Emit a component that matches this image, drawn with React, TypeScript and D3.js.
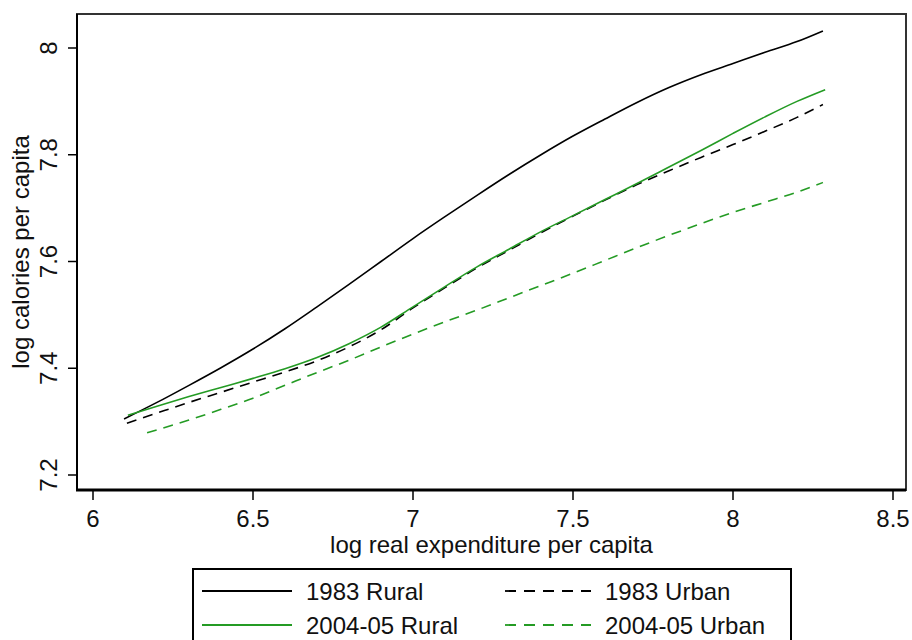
import React from "react";
import * as d3 from "d3";

// values
const xRural83 = [6.097, 6.2, 6.3, 6.4, 6.5, 6.6, 6.7, 6.8, 6.9, 7.0, 7.1, 7.2, 7.3, 7.4, 7.5, 7.6, 7.7, 7.8, 7.9, 8.0, 8.1, 8.2, 8.281];
const yRural83 = [7.305, 7.336, 7.368, 7.401, 7.436, 7.474, 7.515, 7.557, 7.6, 7.643, 7.684, 7.724, 7.763, 7.8, 7.835, 7.867, 7.898, 7.926, 7.95, 7.971, 7.992, 8.012, 8.032];

const xUrban83 = [6.106, 6.2, 6.3, 6.4, 6.5, 6.6, 6.7, 6.8, 6.9, 7.0, 7.1, 7.2, 7.3, 7.4, 7.5, 7.6, 7.7, 7.8, 7.9, 8.0, 8.1, 8.2, 8.281];
const yUrban83 = [7.297, 7.316, 7.336, 7.355, 7.374, 7.393, 7.414, 7.44, 7.472, 7.513, 7.551, 7.588, 7.621, 7.654, 7.685, 7.715, 7.744, 7.77, 7.795, 7.819, 7.844, 7.87, 7.894];

const xRural04 = [6.109, 6.2, 6.3, 6.4, 6.5, 6.6, 6.7, 6.8, 6.9, 7.0, 7.1, 7.2, 7.3, 7.4, 7.5, 7.6, 7.7, 7.8, 7.9, 8.0, 8.1, 8.2, 8.288];
const yRural04 = [7.312, 7.329, 7.347, 7.364, 7.381, 7.399, 7.42, 7.446, 7.477, 7.515, 7.553, 7.59, 7.623, 7.656, 7.686, 7.716, 7.746, 7.777, 7.808, 7.84, 7.871, 7.9, 7.922];

const xUrban04 = [6.169, 6.3, 6.4, 6.5, 6.6, 6.7, 6.8, 6.9, 7.0, 7.1, 7.2, 7.3, 7.4, 7.5, 7.6, 7.7, 7.8, 7.9, 8.0, 8.1, 8.2, 8.281];
const yUrban04 = [7.279, 7.303, 7.323, 7.344, 7.368, 7.392, 7.415, 7.44, 7.464, 7.487, 7.509, 7.532, 7.555, 7.578, 7.602, 7.626, 7.649, 7.671, 7.692, 7.711, 7.73, 7.748];

const xTicks = [6, 6.5, 7, 7.5, 8, 8.5];
const yTicks = [7.2, 7.4, 7.6, 7.8, 8];
const legendLabels = ["1983 Rural", "1983 Urban", "2004-05 Rural", "2004-05 Urban"];

const BLACK = "#000";
const GREEN = "#249b24";
const DASH = "10,7";
const FONT = "'Liberation Sans', Arial, sans-serif";

const series = [
  { xs: xRural83, ys: yRural83, color: BLACK, dash: null },
  { xs: xUrban83, ys: yUrban83, color: BLACK, dash: DASH },
  { xs: xRural04, ys: yRural04, color: GREEN, dash: null },
  { xs: xUrban04, ys: yUrban04, color: GREEN, dash: DASH },
];

export default function App() {
  const width = 912;
  const height = 640;
  const box = { left: 77, top: 14, right: 906, bottom: 490 };

  const x = d3.scaleLinear().domain([6, 8.5]).range([93, 893]);
  const y = d3.scaleLinear().domain([7.2, 8]).range([475, 48]);

  const line = d3
    .line<[number, number]>()
    .x((d) => x(d[0]))
    .y((d) => y(d[1]))
    .curve(d3.curveMonotoneX);

  const legend = { left: 193, top: 569, right: 791, rows: [591, 625], cols: [202, 505] };

  return (
    <svg
      width={width}
      height={height}
      style={{ position: "absolute", left: 0, top: 0, background: "#fff" }}
      fontFamily={FONT}
    >
      <rect x={0} y={0} width={width} height={height} fill="#fff" />

      {/* plot region */}
      <rect
        x={box.left}
        y={box.top}
        width={box.right - box.left}
        height={box.bottom - box.top}
        fill="none"
        stroke="#333"
        strokeWidth={2}
      />

      {series.map((s, i) => (
        <path
          key={i}
          d={line(s.xs.map((v, j) => [v, s.ys[j]] as [number, number])) || ""}
          fill="none"
          stroke={s.color}
          strokeWidth={1.6}
          strokeDasharray={s.dash || undefined}
        />
      ))}

      {/* axes */}
      <line x1={box.left} x2={box.left} y1={box.top} y2={box.bottom + 1} stroke={BLACK} strokeWidth={2} />
      <line x1={box.left - 1} x2={box.right} y1={box.bottom} y2={box.bottom} stroke={BLACK} strokeWidth={3} />

      {yTicks.map((t) => (
        <g key={t}>
          <line x1={box.left - 9} x2={box.left} y1={y(t)} y2={y(t)} stroke={BLACK} strokeWidth={1.5} />
          <text
            transform={`translate(57,${y(t)}) rotate(-90)`}
            textAnchor="middle"
            fontSize={24}
            fill="#111"
          >
            {d3.format("")(t)}
          </text>
        </g>
      ))}

      {xTicks.map((t) => (
        <g key={t}>
          <line x1={x(t)} x2={x(t)} y1={box.bottom} y2={box.bottom + 10} stroke={BLACK} strokeWidth={1.5} />
          <text x={x(t)} y={527} textAnchor="middle" fontSize={24} fill="#111">
            {d3.format("")(t)}
          </text>
        </g>
      ))}

      <text x={(box.left + box.right) / 2} y={553} textAnchor="middle" fontSize={24} fill="#111">
        log real expenditure per capita
      </text>
      <text
        transform={`translate(29,${(box.top + box.bottom) / 2}) rotate(-90)`}
        textAnchor="middle"
        fontSize={24}
        fill="#111"
      >
        log calories per capita
      </text>

      {/* legend */}
      <rect
        x={legend.left}
        y={legend.top}
        width={legend.right - legend.left}
        height={80}
        fill="#fff"
        stroke={BLACK}
        strokeWidth={2}
      />
      {series.map((s, i) => {
        const row = i < 2 ? 0 : 1;
        const col = i % 2;
        const lx = legend.cols[col];
        const ly = legend.rows[row];
        const len = col === 0 ? 90 : 86;
        return (
          <g key={i}>
            <line
              x1={lx}
              x2={lx + len}
              y1={ly}
              y2={ly}
              stroke={s.color}
              strokeWidth={1.8}
              strokeDasharray={s.dash ? "11,8" : undefined}
            />
            <text x={lx + len + 14} y={ly + 8.5} fontSize={24} fill="#111">
              {legendLabels[i]}
            </text>
          </g>
        );
      })}
    </svg>
  );
}
